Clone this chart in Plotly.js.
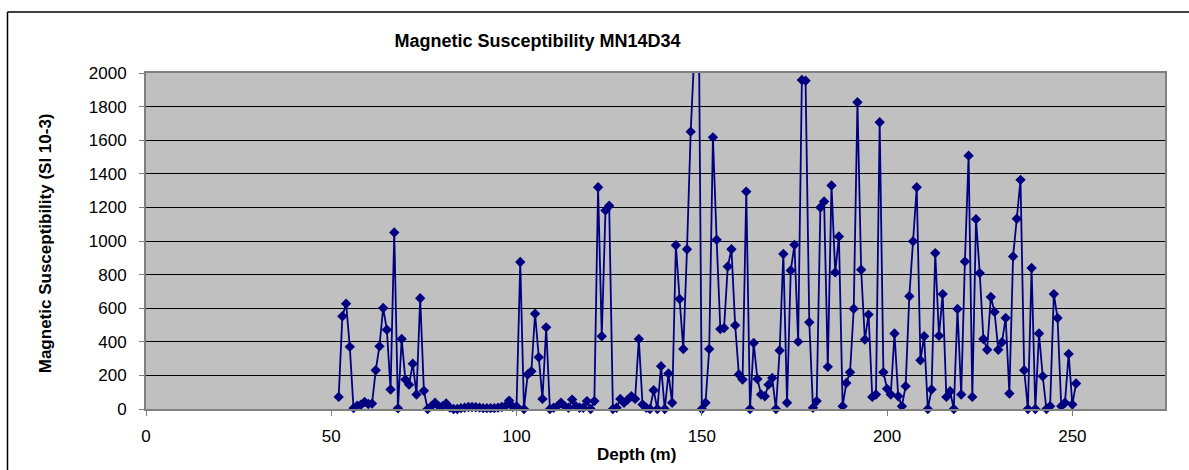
<!DOCTYPE html>
<html>
<head>
<meta charset="utf-8">
<script src="https://cdn.plot.ly/plotly-3.0.1.min.js"></script>
<style>
  html, body { margin: 0; padding: 0; background: #ffffff; overflow: hidden; }
  #chart { width: 1189px; height: 470px; }
</style>
</head>
<body>
<div id="chart"></div>
<script>
const chartTitle = "Magnetic Susceptibility MN14D34";
const xTitle = "Depth (m)";
const yTitle = "Magnetic Susceptibility (SI 10-3)";

const depth = [
  52, 53, 54, 55, 56, 57, 58, 59, 60, 61, 62, 63, 64, 65, 66, 67, 68, 69, 70, 71,
  72, 73, 74, 75, 76, 77, 78, 79, 80, 81, 82, 83, 84, 85, 86, 87, 88, 89, 90, 91,
  92, 93, 94, 95, 96, 97, 98, 99, 100, 101, 102, 103, 104, 105, 106, 107, 108, 109, 110, 111,
  112, 113, 114, 115, 116, 117, 118, 119, 120, 121, 122, 123, 124, 125, 126, 127, 128, 129, 130, 131,
  132, 133, 134, 135, 136, 137, 138, 139, 140, 141, 142, 143, 144, 145, 146, 147, 148, 149, 150, 151,
  152, 153, 154, 155, 156, 157, 158, 159, 160, 161, 162, 163, 164, 165, 166, 167, 168, 169, 170, 171,
  172, 173, 174, 175, 176, 177, 178, 179, 180, 181, 182, 183, 184, 185, 186, 187, 188, 189, 190, 191,
  192, 193, 194, 195, 196, 197, 198, 199, 200, 201, 202, 203, 204, 205, 206, 207, 208, 209, 210, 211,
  212, 213, 214, 215, 216, 217, 218, 219, 220, 221, 222, 223, 224, 225, 226, 227, 228, 229, 230, 231,
  232, 233, 234, 235, 236, 237, 238, 239, 240, 241, 242, 243, 244, 245, 246, 247, 248, 249, 250, 251
];

const susceptibility = [
  72, 552, 627, 370, 5, 20, 25, 42, 30, 32, 231, 373, 601, 472, 116, 1051, 4, 417, 175, 145,
  270, 86, 659, 108, 0, 17, 37, 17, 17, 33, 8, 0, 0, 5, 8, 12, 12, 10, 8, 5,
  5, 5, 5, 8, 12, 18, 50, 13, 15, 875, 0, 205, 225, 567, 308, 60, 486, 0, 7, 17,
  37, 17, 7, 56, 17, 7, 7, 47, 0, 47, 1320, 433, 1182, 1210, 0, 7, 60, 37, 56, 76,
  60, 417, 27, 7, 0, 112, 0, 255, 0, 211, 37, 975, 655, 357, 951, 1651, 2130, 2850, 0, 37,
  357, 1617, 1007, 476, 482, 848, 951, 498, 205, 175, 1294, 0, 393, 179, 86, 76, 145, 185, 0, 348,
  923, 37, 825, 977, 401, 1958, 1954, 516, 7, 47, 1199, 1235, 251, 1330, 813, 1027, 17, 155, 219, 597,
  1826, 829, 413, 562, 72, 86, 1707, 219, 120, 86, 449, 76, 17, 136, 671, 998, 1320, 290, 433, 0,
  116, 928, 436, 684, 72, 106, 0, 595, 86, 878, 1508, 72, 1130, 809, 417, 353, 667, 578, 353, 397,
  542, 92, 908, 1132, 1364, 231, 0, 839, 0, 449, 195, 0, 17, 684, 542, 17, 37, 328, 27, 152
];

const xTicks = [0, 50, 100, 150, 200, 250];
const yTicks = [0, 200, 400, 600, 800, 1000, 1200, 1400, 1600, 1800, 2000];

const yMax = 2000;
const navy = "#000080";
const markerColors = susceptibility.map(v => v > yMax ? "rgba(0,0,0,0)" : navy);
const fontFam = "Liberation Sans, Arial, sans-serif";

// pixel -> paper helpers for the outer chart frame
const PL = 146, PR = 1165, PT = 73, PB = 409.5;
const px2x = p => (p - PL) / (PR - PL);
const px2y = p => (PB - p) / (PB - PT);

const traces = [
  {
    x: depth, y: susceptibility, type: "scatter", mode: "lines",
    line: { color: navy, width: 1.8 },
    cliponaxis: true, hoverinfo: "skip", showlegend: false
  },
  {
    x: depth, y: susceptibility, type: "scatter", mode: "markers",
    marker: { symbol: "diamond", size: 8, color: markerColors, line: { width: 0 } },
    cliponaxis: false, showlegend: false
  }
];

const layout = {
  width: 1189, height: 470,
  margin: { l: 146, r: 24, t: 73, b: 60.5, pad: 0 },
  paper_bgcolor: "#ffffff",
  plot_bgcolor: "#c0c0c0",
  showlegend: false,
  font: { family: fontFam, color: "#000", size: 17 },
  title: {
    text: chartTitle,
    font: { family: fontFam, size: 18, weight: "bold", color: "#000" },
    xref: "container", yref: "container",
    x: 537.5 / 1189, y: 1 - 41 / 470, xanchor: "center", yanchor: "middle"
  },
  xaxis: {
    range: [0, 275], tickvals: xTicks, ticktext: xTicks.map(String),
    showgrid: false, zeroline: false,
    showline: true, linecolor: "#808080", linewidth: 2, mirror: true,
    ticks: "outside", ticklen: 5, tickcolor: "#808080", tickwidth: 1,
    ticklabelstandoff: 6,
    tickfont: { family: fontFam, size: 17, color: "#000" },
    fixedrange: true
  },
  yaxis: {
    range: [0, yMax], tickvals: yTicks, ticktext: yTicks.map(String),
    showgrid: true, gridcolor: "#000000", gridwidth: 1, zeroline: false,
    showline: true, linecolor: "#808080", linewidth: 2, mirror: true,
    ticks: "outside", ticklen: 5, tickcolor: "#808080", tickwidth: 1,
    ticklabelstandoff: 9,
    tickfont: { family: fontFam, size: 17, color: "#000" },
    fixedrange: true
  },
  shapes: [
    { type: "line", xref: "paper", yref: "paper", layer: "above",
      x0: px2x(7.5), x1: px2x(1200), y0: px2y(12), y1: px2y(12),
      line: { color: "#000", width: 1.5 } },
    { type: "line", xref: "paper", yref: "paper", layer: "above",
      x0: px2x(7.5), x1: px2x(7.5), y0: px2y(12), y1: px2y(480),
      line: { color: "#000", width: 1.5 } }
  ],
  annotations: [
    {
      text: xTitle, xref: "paper", yref: "paper",
      x: px2x(636), y: px2y(455),
      xanchor: "center", yanchor: "middle", showarrow: false,
      font: { family: fontFam, size: 17, weight: "bold", color: "#000" }
    },
    {
      text: yTitle, xref: "paper", yref: "paper",
      x: px2x(45), y: px2y(243.5),
      xanchor: "center", yanchor: "middle", textangle: -90, showarrow: false,
      font: { family: fontFam, size: 17, weight: "bold", color: "#000" }
    }
  ]
};

Plotly.newPlot("chart", traces, layout, { displayModeBar: false, staticPlot: true });
</script>
</body>
</html>
